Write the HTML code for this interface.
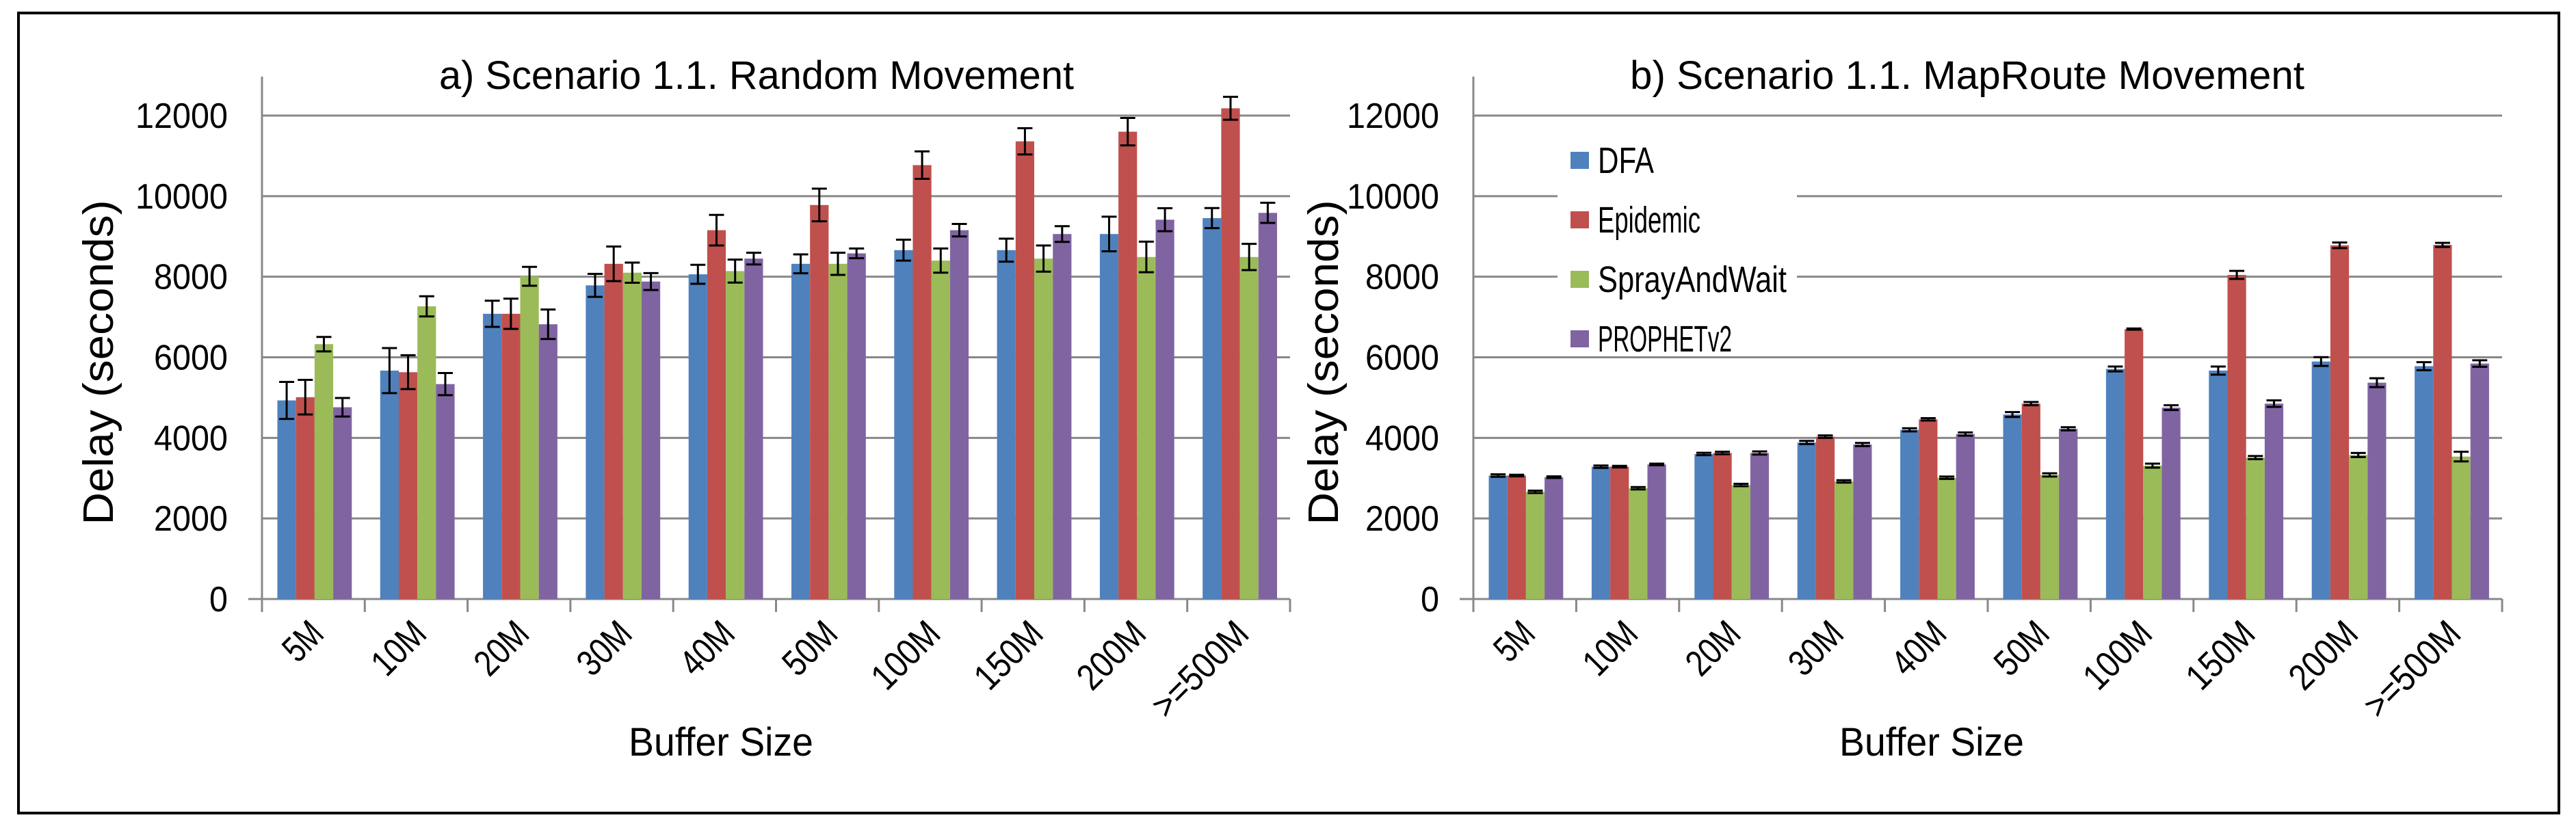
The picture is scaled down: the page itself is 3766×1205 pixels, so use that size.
<!DOCTYPE html>
<html><head><meta charset="utf-8"><style>
html,body{margin:0;padding:0;background:#fff;}
svg{display:block;font-family:"Liberation Sans",sans-serif;}
</style></head><body>
<svg id="fig" width="3766" height="1205" viewBox="0 0 3766 1205" xmlns="http://www.w3.org/2000/svg">
<rect x="27" y="19" width="3714" height="1170" fill="#fff" stroke="#000" stroke-width="4"/>
<g id="root"></g>
</svg>
<script>
const categories = ["5M","10M","20M","30M","40M","50M","100M","150M","200M",">=500M"];
const seriesNames = ["DFA","Epidemic","SprayAndWait","PROPHETv2"];
const yTicks = [0,2000,4000,6000,8000,10000,12000];
const randDFA = [4930,5670,7080,7785,8060,8320,8660,8660,9060,9455];
const randEpi = [5010,5630,7080,8320,9155,9780,10770,11360,11600,12180];
const randSnW = [6326,7265,8010,8100,8140,8320,8400,8450,8490,8490];
const randPro = [4760,5335,6820,7880,8450,8580,9155,9060,9415,9585];
const randDFAErr = [460,560,325,285,235,235,260,285,430,250];
const randEpiErr = [430,420,375,430,380,405,340,325,340,285];
const randSnWErr = [180,250,235,250,285,275,300,325,380,325];
const randProErr = [230,275,365,210,145,120,155,195,285,250];
const mapDFA = [3065,3285,3600,3885,4200,4580,5710,5670,5895,5780];
const mapEpi = [3065,3285,3625,4030,4460,4850,6700,8045,8780,8790];
const mapSnW = [2660,2750,2830,2920,3010,3080,3310,3510,3575,3535];
const mapPro = [3025,3340,3625,3835,4095,4225,4750,4850,5370,5845];
const mapDFAErr = [30,30,30,40,40,60,60,100,110,100];
const mapEpiErr = [20,20,30,30,30,40,15,100,70,50];
const mapSnWErr = [30,30,30,30,30,40,50,40,50,120];
const mapProErr = [20,20,40,40,40,40,60,80,110,80];

const NS="http://www.w3.org/2000/svg";
const root=document.getElementById('root');
const colors=["#4F81BD","#C0504D","#9BBB59","#8064A2"];
function mk(tag,attrs,parent){const e=document.createElementNS(NS,tag);for(const k in attrs)e.setAttribute(k,attrs[k]);(parent||root).appendChild(e);return e;}

function chart(px0,px1,title,titleCx,yTitleX,vals,errs,prefix,withLegend){
  const g=mk('g',{});
  
  
  const y0=876, yTop12=169;
  const ys=v=>y0-(v/12000)*(y0-yTop12);
  const cw=(px1-px0)/categories.length;
  const xs=i=>px0+cw*i;
  yTicks.forEach(t=>{
    if(t>0){const l=mk('line',{x1:px0,x2:px1,y1:ys(t),y2:ys(t),stroke:'#888',"stroke-width":3},g);
      
      }
    const tx=mk('text',{x:px0-50,y:ys(t)+18,"text-anchor":"end","font-size":52,fill:"#000"},g);
    
    
    tx.setAttribute('textLength', String(t).length*27);
    tx.setAttribute('lengthAdjust','spacingAndGlyphs');
    tx.textContent=t;
  });
  const ya=mk('line',{x1:px0,x2:px0,y1:112,y2:895,stroke:'#888',"stroke-width":3},g);
  
  
  const xa=mk('line',{x1:px0-20,x2:px1,y1:y0,y2:y0,stroke:'#888',"stroke-width":3},g);
  
  
  for(let i=0;i<=categories.length;i++){
    const tk=mk('line',{x1:xs(i),x2:xs(i),y1:y0,y2:895,stroke:'#888',"stroke-width":3},g);
    
    
  }
  const bw=27.2, off=22.5;
  vals.forEach((arr,s)=>{
    arr.forEach((v,i)=>{
      const x=xs(i)+off+s*bw;
      const r=mk('rect',{x:x,y:ys(v),width:bw,height:y0-ys(v),fill:colors[s]},g);
      
      
      const e=errs[s][i], cx=x+bw/2;
      const p=mk('path',{d:`M${cx-11},${ys(v+e)}H${cx+11}M${cx},${ys(v+e)}V${ys(v-e)}M${cx-11},${ys(v-e)}H${cx+11}`,stroke:'#000',"stroke-width":3,fill:'none'},g);
      
      
    });
  });
  categories.forEach((c,i)=>{
    const ax=xs(i)+cw/2+18, ay=930;
    const t=mk('text',{x:ax,y:ay,"text-anchor":"end","font-size":54,transform:`rotate(-45 ${ax} ${ay})`},g);
    
    
    t.setAttribute('textLength', c.length*29);
    t.setAttribute('lengthAdjust','spacingAndGlyphs');
    t.textContent=c;
  });
  const tt=mk('text',{x:titleCx,y:130,"text-anchor":"middle","font-size":58},g);
  
  
  tt.setAttribute('textLength', title.length*29);
  tt.setAttribute('lengthAdjust','spacingAndGlyphs');
  tt.textContent=title;
  const xt=mk('text',{x:titleCx-52,y:1105,"text-anchor":"middle","font-size":58},g);
  
  
  xt.setAttribute('textLength', 270);
  xt.setAttribute('lengthAdjust','spacingAndGlyphs');
  xt.textContent='Buffer Size';
  const yt=mk('text',{x:0,y:0,"text-anchor":"middle","font-size":62,transform:`translate(${yTitleX+22},530) rotate(-90)`},g);
  
  
  yt.setAttribute('textLength', 475);
  yt.setAttribute('lengthAdjust','spacingAndGlyphs');
  yt.textContent='Delay (seconds)';
  if(withLegend){
    const lg=mk('g',{},g);
    
    
    mk('rect',{x:2277,y:180,width:350,height:335,fill:'#fff'},lg);
    const lens=[82,150,276,196];
    seriesNames.forEach((n,s)=>{
      const cy=234+s*87;
      const sw=mk('rect',{x:2296,y:cy-12,width:27,height:25,fill:colors[s]},lg);
      
      
      const t=mk('text',{x:2336,y:cy+19,"font-size":54},lg);
      
      
      t.setAttribute('textLength', lens[s]);
      t.setAttribute('lengthAdjust','spacingAndGlyphs');
      t.textContent=n;
    });
  }
}
chart(383,1886,"a) Scenario 1.1. Random Movement",1106,143,
  [randDFA,randEpi,randSnW,randPro],[randDFAErr,randEpiErr,randSnWErr,randProErr],'random',false);
chart(2154,3658,"b) Scenario 1.1. MapRoute Movement",2876,1934,
  [mapDFA,mapEpi,mapSnW,mapPro],[mapDFAErr,mapEpiErr,mapSnWErr,mapProErr],'maproute',true);
</script>
</body></html>
